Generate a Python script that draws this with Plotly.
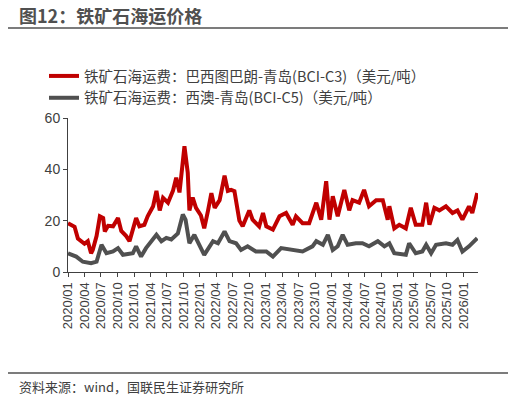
import plotly.graph_objects as go
import pandas as pd

# months since 2020/01 and values
c3_month = [0, 1.2, 1.8, 3, 3.6, 4.2, 4.5, 5.2, 5.8, 6.4, 6.7, 7.3, 8.2, 9.1, 9.7, 10.6, 11.2, 11.8,
            12.4, 13, 13.9, 14.5, 15.5, 16.1, 16.7, 17.3, 18.2, 19.1, 19.7, 20.3, 20.9, 21.2, 21.8,
            22.1, 22.7, 23.3, 24.2, 24.8, 25.5, 26.1, 26.7, 27.6, 28.5, 29.1, 29.7, 30.3, 31.2, 31.8,
            33, 33.6, 34.8, 35.5, 36.1, 37.3, 38.5, 39.7, 40.9, 41.5, 42.7, 43.9, 45.2, 46.1, 47,
            47.6, 48.2, 49.1, 50.3, 51.2, 51.8, 53, 53.9, 54.8, 56.1, 57.3, 58.2, 58.5, 59.4, 60.3,
            61.5, 62.4, 63.3, 64.5, 65.2, 65.8, 66.7, 67.6, 68.8, 70, 70.9, 71.8, 73, 73.6, 74.5]
c3_value = [19, 17.6, 13, 11, 12, 7.3, 8.6, 14, 21.7, 21, 15.8, 18, 17.8, 21, 16, 14, 12, 16,
            21, 17.8, 18.4, 21.7, 25.6, 31.6, 24, 28.9, 27, 31.6, 36.7, 31, 45, 49, 38.7,
            24, 29, 25, 22, 17, 24, 30.7, 25, 28, 37.5, 31.6, 32, 31.5, 20, 17.8,
            24, 20.4, 17.8, 23, 17.8, 16.5, 21.7, 23, 18.4, 21.7, 19, 19, 27, 20.4, 35.4,
            20.4, 29.5, 21.7, 32, 24, 28, 27, 32, 25.6, 28, 28, 20.4, 25.6, 17, 18.4,
            17, 25, 18.4, 18.4, 27, 18.4, 25, 24, 25.6, 23, 24, 20.4, 25.6, 23, 30.8]

c5_month = [0, 1.5, 2.7, 4.2, 5.2, 6.1, 7, 8.2, 9.1, 10, 11.8, 12.4, 13.3, 14.2, 16.1, 17, 17.9,
            18.8, 20, 20.9, 21.4, 22.1, 23, 23.9, 24.8, 26.4, 27.3, 28.5, 29.4, 30.6, 31.5, 32.7,
            34.2, 36.1, 37.3, 38.8, 40.9, 42.7, 44.5, 45.2, 46.4, 47.3, 48.2, 49.1, 50, 50.9, 52.4,
            53.6, 54.8, 56.4, 57.6, 58.5, 59.4, 61.5, 62.1, 63.3, 64.5, 65.2, 66.1, 67, 68.8, 70,
            70.9, 71.8, 73, 74.5]
c5_value = [7.3, 6, 4, 3.4, 4, 10.6, 7.3, 8, 9.3, 6.7, 7.3, 10, 6, 9.3, 14.5, 12, 13.3,
            12.7, 15, 22.4, 20.4, 11.2, 14.5, 10.6, 6.7, 12, 11.2, 15.8, 12, 11.2, 8.6, 10,
            8, 8, 6, 9.3, 8.6, 8, 10, 12, 10.6, 14.5, 8.6, 10, 14.5, 10.6, 11.2,
            11.2, 10, 12, 10, 11.2, 7.3, 6.7, 11.2, 7.3, 8, 10.6, 7.3, 10.6, 11.2, 10.6,
            12.5, 8, 10, 13.2]

c3_name = "铁矿石海运费：巴西图巴朗-青岛(BCI-C3)（美元/吨）"
c5_name = "铁矿石海运费：西澳-青岛(BCI-C5)（美元/吨）"


def to_dates(months):
    base = pd.Timestamp("2020-01-01")
    return [base + pd.Timedelta(days=m * 30.44) for m in months]


tickvals = pd.date_range("2020-01-01", "2026-01-01", freq="QS")

fig = go.Figure()
fig.add_trace(go.Scatter(x=to_dates(c3_month), y=c3_value, mode="lines", name=c3_name,
                         line=dict(color="#C00000", width=4)))
fig.add_trace(go.Scatter(x=to_dates(c5_month), y=c5_value, mode="lines", name=c5_name,
                         line=dict(color="#505050", width=4)))

# page has an 8px body margin, so the figure is sized and placed 8px smaller
W, H = 508, 393
PL, PR, PT, PB = 60, 470, 110, 264
ph = PB - PT
pw = PR - PL


def py(px):
    return (PB - px) / ph


def pxx(px):
    return (px - PL) / pw


font = "Noto Sans CJK SC"
fig.update_layout(
    width=W, height=H,
    margin=dict(l=PL, r=W - PR, t=PT, b=H - PB),
    plot_bgcolor="white", paper_bgcolor="white",
    font=dict(family=font, size=14, color="#404040"),
    showlegend=True,
    legend=dict(x=pxx(36), y=py(52), xanchor="left", yanchor="top", font=dict(size=14.5),
                tracegroupgap=0, bgcolor="rgba(0,0,0,0)"),
    xaxis=dict(type="date", range=["2020-01-01", "2026-03-22"], tickvals=tickvals,
               tickformat="%Y/%m", tickangle=-90, ticks="outside", ticklen=4,
               showline=True, linecolor="#404040", showgrid=False,
               tickfont=dict(size=13, family="Liberation Sans")),
    yaxis=dict(range=[0, 60], tickvals=[0, 20, 40, 60], ticks="outside", ticklen=4,
               showline=True, linecolor="#404040", showgrid=False, zeroline=False,
               tickfont=dict(size=14, family="Liberation Sans")),
    shapes=[
        dict(type="line", xref="paper", yref="paper", x0=pxx(-2), x1=pxx(502),
             y0=py(20), y1=py(20), line=dict(color="#505050", width=1.5)),
        dict(type="line", xref="paper", yref="paper", x0=pxx(-2), x1=pxx(502),
             y0=py(365), y1=py(365), line=dict(color="#505050", width=1.5)),
    ],
    annotations=[
        dict(text="<b>图12：铁矿石海运价格</b>", xref="paper", yref="paper",
             x=pxx(9), y=py(7), xanchor="left", yanchor="middle",
             showarrow=False, font=dict(size=18, color="#505050")),
        dict(text="资料来源：wind，国联民生证券研究所", xref="paper", yref="paper",
             x=pxx(9), y=py(378), xanchor="left", yanchor="middle",
             showarrow=False, font=dict(size=13, color="#404040")),
    ],
)

fig.write_html("out.html")
